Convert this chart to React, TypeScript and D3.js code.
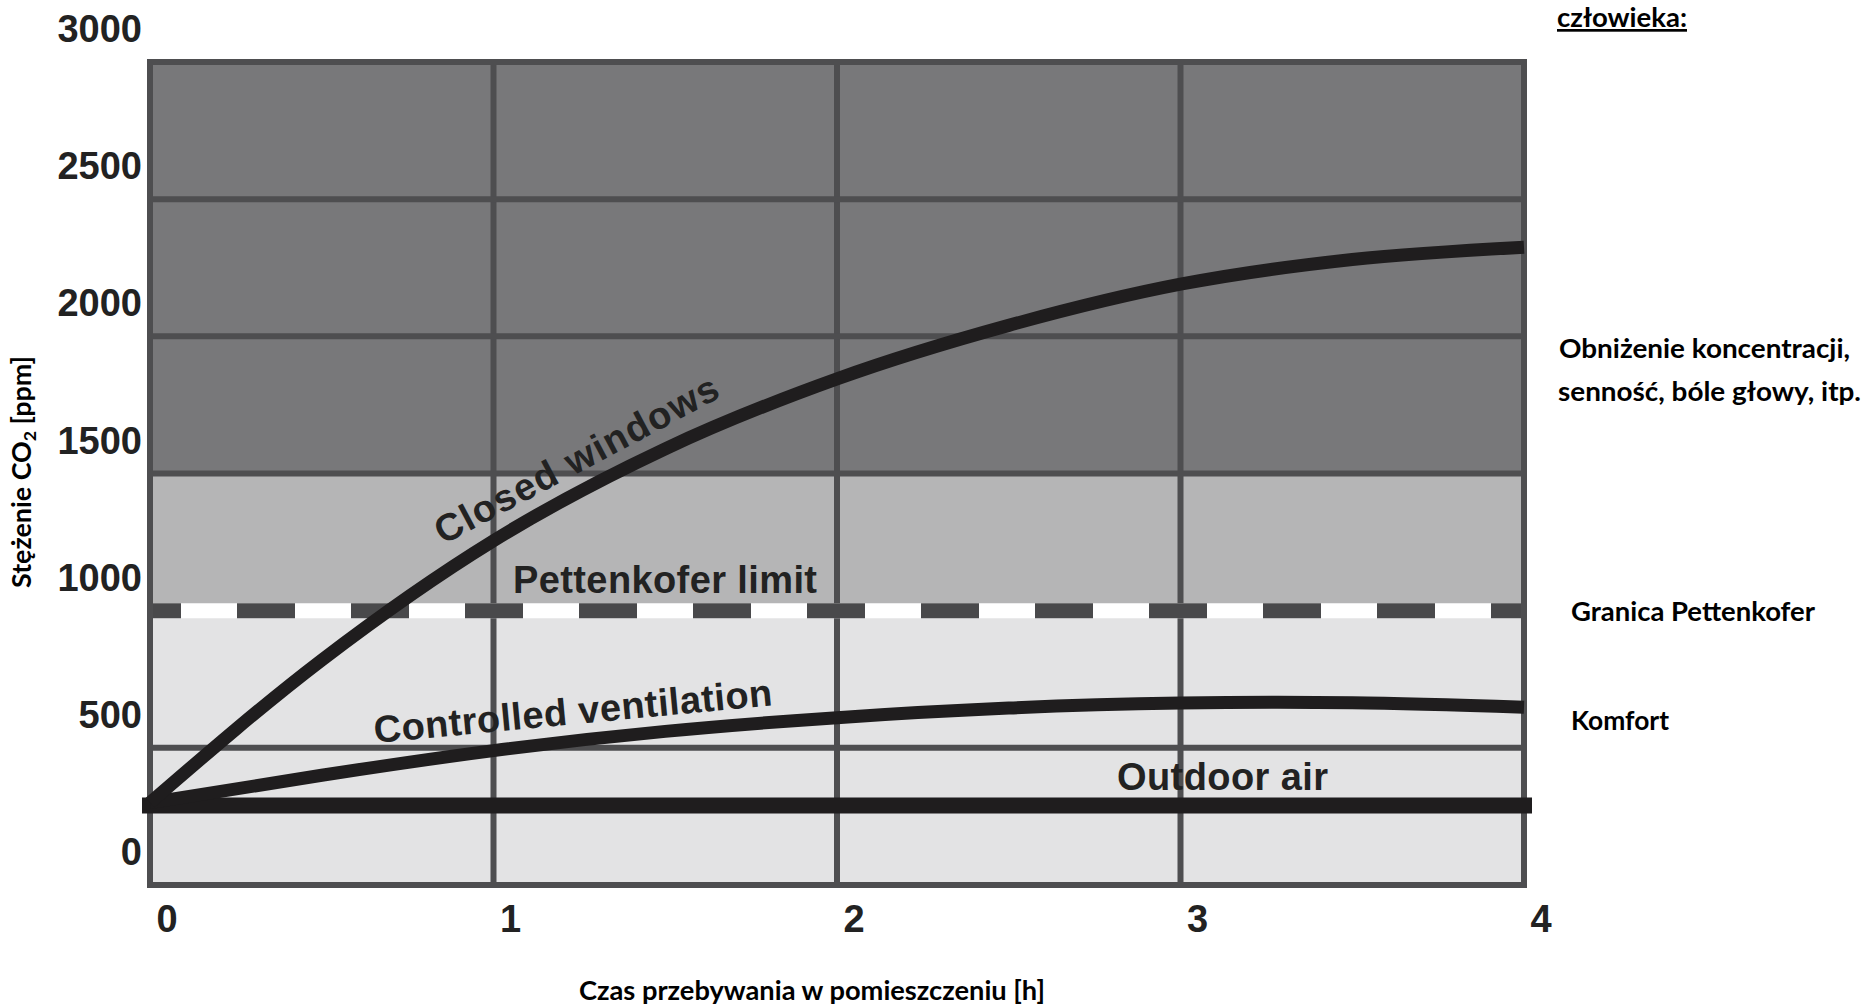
import React from 'react';
import * as d3 from 'd3';

// ---- data ----
const HOURS = [0, 0.5, 1, 1.5, 2, 2.5, 3, 3.5, 4];
const CLOSED_WINDOWS = [300, 820, 1255, 1590, 1845, 2040, 2190, 2280, 2325];
const CONTROLLED_VENTILATION = [300, 400, 490, 560, 610, 645, 663, 664, 648];
const OUTDOOR_AIR = [290, 290, 290, 290, 290, 290, 290, 290, 290];
const X_TICKS = [0, 1, 2, 3, 4];
const Y_TICKS = [0, 500, 1000, 1500, 2000, 2500, 3000];
const GRID_X = [1, 2, 3];
const GRID_Y = [500, 1500, 2000, 2500];
const ZONE_BOUNDS = [0, 1000, 1500, 3000];
const PETTENKOFER = 1000;

const W = 1863;
const H = 1007;
const ZONE_FILLS = ['#e3e3e4', '#b5b5b6', '#78787a'];
const GRID_COLOR = '#4e4e50';
const INK = '#1f1d1e';
const ARIAL = '"Liberation Sans", Arial, sans-serif';
const CAL = 'Lato, "Open Sans", "Noto Sans", sans-serif';

export default function App() {
  const x = d3.scaleLinear().domain([0, 4]).range([150, 1524]);
  const y = d3.scaleLinear().domain([0, 3000]).range([885, 62]);

  const lineNatural = d3
    .line<number>()
    .x((_, i) => x(HOURS[i]))
    .y((d) => y(d))
    .curve(d3.curveNatural);
  const lineMono = d3
    .line<number>()
    .x((_, i) => x(HOURS[i]))
    .y((d) => y(d))
    .curve(d3.curveMonotoneX);

  const x0 = x(0);
  const x4 = x(4);

  return (
    <svg
      width={W}
      height={H}
      style={{ position: 'absolute', left: 0, top: 0, background: '#fff' }}
    >
      <rect x={0} y={0} width={W} height={H} fill="#fff" />
      {/* zones */}
      {ZONE_FILLS.map((f, i) => (
        <rect
          key={'z' + i}
          x={x0}
          y={y(ZONE_BOUNDS[i + 1])}
          width={x4 - x0}
          height={y(ZONE_BOUNDS[i]) - y(ZONE_BOUNDS[i + 1])}
          fill={f}
        />
      ))}
      {/* grid */}
      {GRID_X.map((v) => (
        <line key={'gx' + v} x1={x(v)} x2={x(v)} y1={y(0)} y2={y(3000)} stroke={GRID_COLOR} strokeWidth={6} />
      ))}
      {GRID_Y.map((v) => (
        <line key={'gy' + v} x1={x0} x2={x4} y1={y(v)} y2={y(v)} stroke={GRID_COLOR} strokeWidth={6} />
      ))}
      <rect x={x0} y={y(3000)} width={x4 - x0} height={y(0) - y(3000)} fill="none" stroke={GRID_COLOR} strokeWidth={6} />

      {/* Pettenkofer dashed */}
      <line x1={x0 + 3} x2={x4 - 3} y1={y(PETTENKOFER)} y2={y(PETTENKOFER)} stroke="#ffffff" strokeWidth={15} />
      <line
        x1={x0 + 3}
        x2={x4 - 3}
        y1={y(PETTENKOFER)}
        y2={y(PETTENKOFER)}
        stroke="#49494b"
        strokeWidth={15}
        strokeDasharray="58 56"
        strokeDashoffset={30}
      />

      {/* outdoor air */}
      <path d={lineNatural(OUTDOOR_AIR) || ''} fill="none" stroke={INK} strokeWidth={16} strokeLinecap="square" />
      {/* curves */}
      <path d={lineNatural(CONTROLLED_VENTILATION) || ''} fill="none" stroke={INK} strokeWidth={13} strokeLinecap="butt" />
      <path d={lineMono(CLOSED_WINDOWS) || ''} fill="none" stroke={INK} strokeWidth={13} strokeLinecap="butt" />

      {/* curve labels */}
      <g fontFamily={ARIAL} fontWeight="bold" fontSize={38} fill="#222">
        <text transform="translate(443,545) rotate(-28)" textLength={316} lengthAdjust="spacing">
          Closed windows
        </text>
        <text transform="translate(375,743) rotate(-5.4)" textLength={400} lengthAdjust="spacing">
          Controlled ventilation
        </text>
        <text x={513} y={593} textLength={304} lengthAdjust="spacing">
          Pettenkofer limit
        </text>
        <text x={1117} y={790} textLength={211} lengthAdjust="spacing">
          Outdoor air
        </text>
      </g>

      {/* ticks */}
      <g fontFamily={ARIAL} fontWeight="bold" fontSize={38} fill="#222">
        {Y_TICKS.map((v) => (
          <text key={'yt' + v} x={142} y={y(v) - 20} textAnchor="end">
            {v}
          </text>
        ))}
        {X_TICKS.map((v) => (
          <text key={'xt' + v} x={x(v) + 17} y={932} textAnchor="middle">
            {v}
          </text>
        ))}
      </g>

      {/* axis titles */}
      <g fontFamily={CAL} fontWeight="bold" fill="#000">
        <text
          transform="translate(31,472) rotate(-90)"
          textAnchor="middle"
          fontSize={26}
          textLength={232}
          lengthAdjust="spacingAndGlyphs"
        >
          Stężenie CO<tspan fontSize={17} dy={5}>2</tspan>
          <tspan dy={-5}> [ppm]</tspan>
        </text>
        <text x={812} y={1000} textAnchor="middle" fontSize={26} textLength={466} lengthAdjust="spacingAndGlyphs">
          Czas przebywania w pomieszczeniu [h]
        </text>

        {/* right annotations */}
        <text x={1557} y={27} fontSize={27} textDecoration="underline" textLength={130} lengthAdjust="spacingAndGlyphs">
          człowieka:
        </text>
        <text x={1559} y={358} fontSize={27} textLength={291} lengthAdjust="spacingAndGlyphs">
          Obniżenie koncentracji,
        </text>
        <text x={1558} y={401} fontSize={27} textLength={303} lengthAdjust="spacingAndGlyphs">
          senność, bóle głowy, itp.
        </text>
        <text x={1571} y={621} fontSize={27} textLength={244} lengthAdjust="spacingAndGlyphs">
          Granica Pettenkofer
        </text>
        <text x={1571} y={730} fontSize={27} textLength={98} lengthAdjust="spacingAndGlyphs">
          Komfort
        </text>
      </g>
    </svg>
  );
}
